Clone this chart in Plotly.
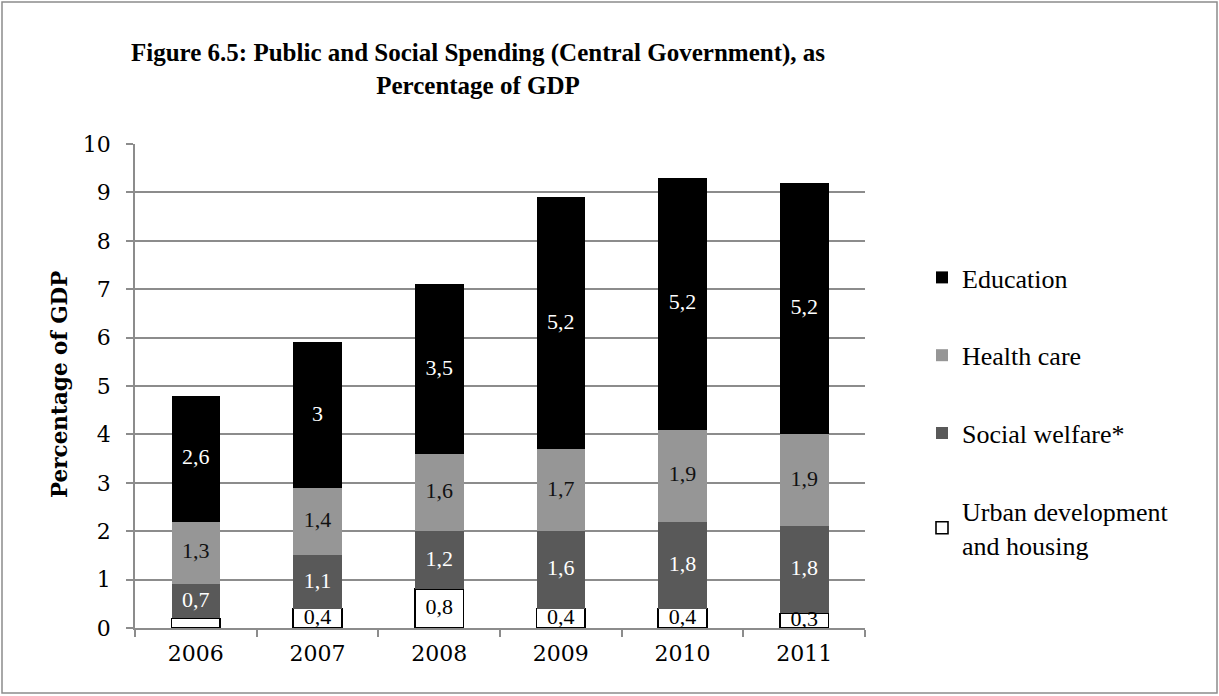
import plotly.graph_objects as go

# Central government spending by area, percent of GDP
years = ["2006", "2007", "2008", "2009", "2010", "2011"]
urban_housing = [0.2, 0.4, 0.8, 0.4, 0.4, 0.3]
social_welfare = [0.7, 1.1, 1.2, 1.6, 1.8, 1.8]
health_care = [1.3, 1.4, 1.6, 1.7, 1.9, 1.9]
education = [2.6, 3.0, 3.5, 5.2, 5.2, 5.2]
y_tick_values = [0, 1, 2, 3, 4, 5, 6, 7, 8, 9, 10]

# stacking order, bottom to top
series = [
    ("Urban development<br>and housing", urban_housing, "#ffffff", "#000000", 4),
    ("Social welfare*", social_welfare, "#595959", "#ffffff", 3),
    ("Health care", health_care, "#969696", "#111111", 2),
    ("Education", education, "#000000", "#ffffff", 1),
]

W, H = 1219, 696
L, R, T, B = 135, 354, 144, 68
PW, PH = W - L - R, H - T - B

GRID = "#8c8c8c"
SERIF = "Liberation Serif, Times New Roman, serif"
TICKFONT = "DejaVu Serif, serif"


def fmt(v):
    s = f"{v:g}"
    return s.replace(".", ",")


def px_x(x):
    return (x - L) / PW


def px_y(y):
    return (H - B - y) / PH


fig = go.Figure()

base = [0.0] * len(years)
for name, vals, color, label_color, rank in series:
    outline = 1.6 if color == "#ffffff" else 0
    fig.add_trace(go.Bar(
        x=years, y=vals, name=name,
        marker=dict(color=color, line=dict(color="#000000", width=outline)),
        legendgroup=name, legendrank=rank,
        hoverinfo="skip",
    ))
    mids = [b + v / 2 for b, v in zip(base, vals)]
    labels = [fmt(v) if v >= 0.25 else "" for v in vals]
    fig.add_trace(go.Scatter(
        x=years, y=mids, mode="text", text=labels,
        textfont=dict(family=SERIF, size=22, color=label_color),
        showlegend=False, hoverinfo="skip", cliponaxis=True,
    ))
    base = [b + v for b, v in zip(base, vals)]

fig.update_layout(
    width=W, height=H,
    margin=dict(l=L, r=R, t=T, b=B),
    barmode="stack", bargap=0.6,
    paper_bgcolor="#ffffff", plot_bgcolor="#ffffff",
    showlegend=True,
    legend=dict(
        x=px_x(922), y=px_y(254), xanchor="left", yanchor="top",
        font=dict(family=SERIF, size=26, color="#000000"),
        traceorder="grouped", tracegroupgap=41,
        bgcolor="rgba(0,0,0,0)",
    ),
    xaxis=dict(
        type="category", tickson="boundaries", ticks="outside", ticklen=7,
        tickcolor=GRID, tickwidth=1.5,
        showline=True, linecolor=GRID, linewidth=1.5,
        showgrid=False, tickfont=dict(family=TICKFONT, size=22, color="#000000"),
        ticklabelstandoff=5,
    ),
    yaxis=dict(
        range=[0, 10], tickvals=y_tick_values, ticks="outside", ticklen=7,
        tickcolor=GRID, tickwidth=1.5,
        showline=True, linecolor=GRID, linewidth=1.5,
        showgrid=True, gridcolor=GRID, gridwidth=1.5, zeroline=False,
        tickfont=dict(family=TICKFONT, size=22, color="#000000"),
        ticklabelstandoff=11,
    ),
    annotations=[
        dict(
            text="<b>Figure 6.5: Public and Social Spending (Central Government), as<br>Percentage of GDP</b>",
            xref="paper", yref="paper", x=px_x(478), y=px_y(69),
            xanchor="center", yanchor="middle", align="center", showarrow=False,
            font=dict(family=SERIF, size=25, color="#000000"),
        ),
        dict(
            text="<b>Percentage of GDP</b>",
            xref="paper", yref="paper", x=px_x(59), y=px_y(385),
            xanchor="center", yanchor="middle", textangle=-90, showarrow=False,
            font=dict(family=TICKFONT, size=21.5, color="#000000"),
        ),
    ],
    shapes=[
        dict(
            type="rect", xref="paper", yref="paper",
            x0=px_x(2), x1=px_x(1217), y0=px_y(693), y1=px_y(2),
            line=dict(color=GRID, width=1.5), fillcolor="rgba(0,0,0,0)",
            layer="below",
        ),
    ],
)

fig.write_html("out.html")
